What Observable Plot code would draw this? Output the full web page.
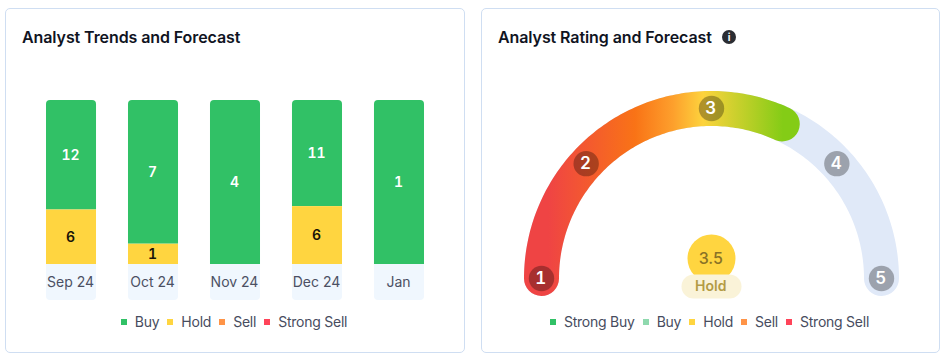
<!DOCTYPE html>
<html><head><meta charset="utf-8">
<script src="https://cdn.jsdelivr.net/npm/d3@7"></script>
<script src="https://cdn.jsdelivr.net/npm/@observablehq/plot@0.6"></script>
<style>
html,body{margin:0;padding:0;background:#fff;width:945px;height:358px;overflow:hidden;font-family:Inter,sans-serif}
.card{position:absolute;top:8px;height:345px;box-sizing:border-box;border:1px solid #cfdef2;border-radius:5px;width:460px}
.title{position:absolute;top:27px;font:600 16px/20px Inter,sans-serif;letter-spacing:-.09px;color:#10141f;white-space:nowrap}
.legend{position:absolute;top:313px;height:18px;display:flex;justify-content:center;align-items:center;font:400 14px/18px Inter,sans-serif;letter-spacing:-.24px;color:#474c5e;white-space:nowrap}
.legend span.k{display:inline-block;width:6px;height:6px;margin-right:8px}
.legend span.t{margin-right:8px}
.legend span.t:last-child{margin-right:0}
.plot{position:absolute;top:0}
.plot svg{overflow:visible;display:block}
.plot svg text{font-family:Inter,sans-serif}
.info{position:absolute;left:722px;top:30px;width:14px;height:14px;border-radius:50%;background:#2b2d33;color:#fff;font:700 10px/14px Inter,sans-serif;text-align:center}
</style></head><body>
<div class="card" style="left:5px"></div>
<div class="card" style="left:481px;width:459px"></div>
<div class="title" style="left:22px">Analyst Trends and Forecast</div>
<div class="title" style="left:498px">Analyst Rating and Forecast</div>
<div class="info">i</div>
<div class="plot" id="trends" style="left:0"></div>
<div class="plot" id="gauge" style="left:470px"></div>
<div class="legend" id="leg1" style="left:4px;width:460px"></div>
<div class="legend" id="leg2" style="left:480px;width:459px"></div>
<script>
const months = ["Sep 24","Oct 24","Nov 24","Dec 24","Jan"];
const buy = [12,7,4,11,1];
const hold = [6,1,0,6,0];
const sell = [0,0,0,0,0];
const strongSell = [0,0,0,0,0];
const seriesNames = ["Buy","Hold","Sell","Strong Sell"];
const seriesColors = ["#31c166","#ffd540","#ff9447","#ff4459"];
const gaugeLabels = ["Strong Buy","Buy","Hold","Sell","Strong Sell"];
const gaugeColors = ["#31c166","#8fd9ae","#ffd540","#ff9447","#ff4459"];
const ratingMarks = [1,2,3,4,5];
const ratingAngles = [0,42.5,90,137.5,180];
const ratingValue = 3.5;
const ratingLabel = "Hold";
const ratingEndAngle = 114.6;

const rows = months.flatMap((m,i)=>[
  {month:m,series:"Strong Sell",count:strongSell[i]},
  {month:m,series:"Sell",count:sell[i]},
  {month:m,series:"Hold",count:hold[i]},
  {month:m,series:"Buy",count:buy[i]}
]);
const stackOrder = ["Strong Sell","Sell","Hold","Buy"];
const stack = o => Plot.stackY({x:"month",y:"count",z:"series",offset:"normalize",order:stackOrder,...o});

const trends = Plot.plot({
  width:470,height:358,marginTop:100,marginBottom:94,marginLeft:46,marginRight:46,
  style:{background:"transparent",fontFamily:"Inter, sans-serif"},
  x:{domain:months,paddingInner:0.39,paddingOuter:0,round:false,label:null,axis:null},
  y:{domain:[0,1],axis:null},
  color:{domain:seriesNames,range:seriesColors},
  marks:[
    Plot.barY(months,{x:d=>d,y1:0,y2:-0.2195,fill:"#f0f7fe",ry2:4}),
    Plot.barY(rows,stack({fill:d=>d.series!=="Buy"&&d.count>0?d.series:null})),
    Plot.barY(rows,stack({fill:d=>d.series==="Buy"?d.series:null,ry1:4})),
    Plot.axisX({anchor:"bottom",tickSize:0,tickPadding:13,label:null,fontSize:14,fill:"#4b5063",letterSpacing:"-0.3",dx:-1}),
    Plot.text(rows,stack({text:d=>d.count>0?d.count:null,fontSize:14,fontWeight:600,dx:-1,
      fill:d=>d.series==="Hold"?"#1a1408":"#ffffff"}))
  ]
});
document.getElementById("trends").append(trends);

const ang = a => a*Math.PI/180;
const arcPts = end => d3.range(0,end,1).concat([end]).map(a=>({x:-Math.cos(ang(a)),y:Math.sin(ang(a))}));
const markPts = ratingMarks.map((v,i)=>({v,x:-Math.cos(ang(ratingAngles[i])),y:Math.sin(ang(ratingAngles[i]))}));
const pillRadius = 18/170;

const gauge = Plot.plot({
  width:475,height:358,marginTop:108,marginBottom:80,marginLeft:71,marginRight:64,
  style:{background:"transparent",fontFamily:"Inter, sans-serif"},
  x:{domain:[-1,1],axis:null},
  y:{domain:[0,1],axis:null},
  marks:[
    (i,{x})=>{
      const d = d3.create("svg:defs");
      const g = d.append("linearGradient").attr("id","gaugeGrad").attr("gradientUnits","userSpaceOnUse")
        .attr("x1",x(-0.96)).attr("x2",x(0.42)).attr("y1",0).attr("y2",0);
      [[0,"#ef4444"],[0.37,"#f97316"],[0.53,"#fd9f2c"],[0.66,"#fdd33d"],[1,"#84cc16"]]
        .forEach(([o,c])=>g.append("stop").attr("offset",o).attr("stop-color",c));
      return d.node();
    },
    Plot.line(arcPts(180),{x:"x",y:"y",stroke:"#e0e9f8",strokeWidth:35,strokeLinecap:"round",curve:"linear"}),
    Plot.line(arcPts(ratingEndAngle),{x:"x",y:"y",stroke:"url(#gaugeGrad)",strokeWidth:35,strokeLinecap:"round",curve:"linear"}),
    Plot.dot(markPts,{x:"x",y:"y",r:12.7,fill:"#000",fillOpacity:0.3}),
    Plot.text(markPts,{x:"x",y:"y",text:"v",fill:"#fff",fontSize:17,fontWeight:600,dx:-0.7}),
    Plot.dot([{x:0,y:20/170}],{x:"x",y:"y",r:24,fill:"#ffd540"}),
    Plot.line([{x:-pillRadius,y:-8/170},{x:pillRadius,y:-8/170}],{x:"x",y:"y",stroke:"#faf3d8",strokeWidth:24,strokeLinecap:"round"}),
    Plot.text([ratingValue.toFixed(1)],{x:0,y:20/170,text:d=>d,fill:"#8a7226",fontSize:16,fontWeight:500,dx:-0.7}),
    Plot.text([ratingLabel],{x:0,y:-8/170,text:d=>d,fill:"#b39b45",fontSize:14,fontWeight:600,dx:-0.7})
  ]
});
document.getElementById("gauge").append(gauge);

function legend(id,names,colors){
  document.getElementById(id).innerHTML = names.map((n,i)=>
    `<span class="k" style="background:${colors[i]}"></span><span class="t">${n}</span>`).join("");
}
legend("leg1",seriesNames,seriesColors);
legend("leg2",gaugeLabels,gaugeColors);
</script>
</body></html>
